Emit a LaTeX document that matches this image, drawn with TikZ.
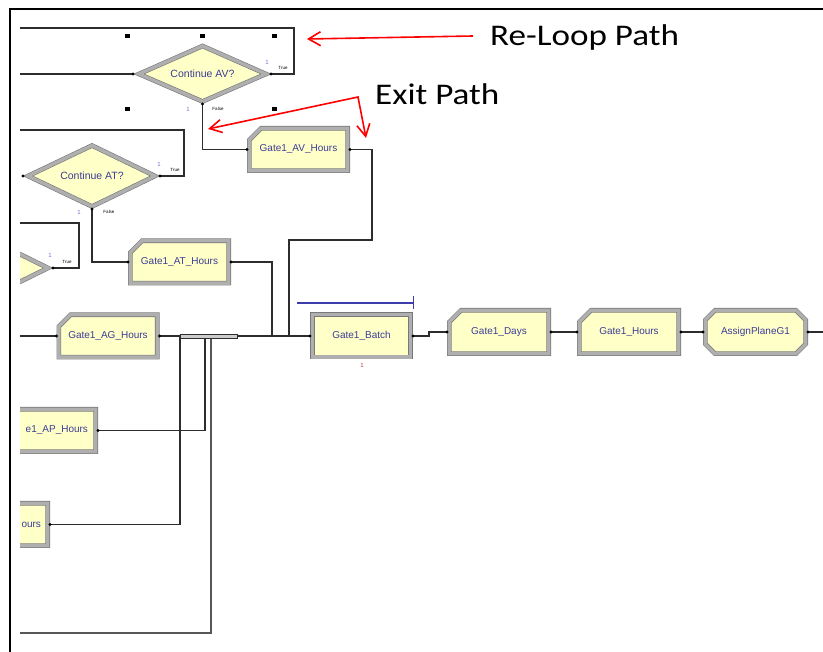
\documentclass[tikz,border=0pt]{standalone}
\usepackage{fontspec}
\setmainfont{Liberation Sans}
\newfontfamily\annfont{Carlito}
\usetikzlibrary{arrows.meta,calc}
\definecolor{modfill}{RGB}{255,255,200}
\definecolor{modgray}{RGB}{175,175,175}
\definecolor{modedge}{RGB}{120,120,120}
\definecolor{modtext}{RGB}{60,60,150}
\definecolor{conncol}{RGB}{45,45,45}
\definecolor{onecol}{RGB}{120,110,210}
\definecolor{batchone}{RGB}{190,60,60}
\definecolor{batchblue}{RGB}{60,60,170}
\pgfdeclarelayer{bg}
\pgfsetlayers{bg,main}
\tikzset{
  mod/.style={rectangle, inner sep=0pt, outer sep=0pt, minimum width=103pt, minimum height=47pt,
    font=\fontsize{10}{12}\selectfont, text=modtext},
  dtext/.style={inner sep=0pt, font=\fontsize{10.5}{12}\selectfont, text=modtext},
  modborder/.style={draw=modedge, line width=0.6pt, double=modgray, double distance=3.4pt, fill=modfill, line join=miter},
  conn/.style={draw=conncol, line width=1.1pt},
  tinylab/.style={inner sep=0pt, font=\fontsize{4.5}{5}\selectfont, text=black},
  onelab/.style={inner sep=0pt, font=\fontsize{6}{7}\selectfont, text=onecol},
  ann/.style={inner sep=0pt, font=\annfont\fontsize{30}{36}\selectfont, text=black},
  redarr/.style={draw=red, line width=1.6pt, line join=miter, -{Straight Barb[length=12pt,width=14pt]}},
  redarrtwo/.style={draw=red, line width=1.6pt, line join=miter, {Straight Barb[length=12pt,width=13pt]}-{Straight Barb[length=12pt,width=13pt]}},
  handle/.style={fill=black},
}
\newcommand\procshape[1]{\draw[modborder] ([shift={(14pt,-2.3pt)}]#1.north west) -- ([shift={(-2.3pt,-2.3pt)}]#1.north east) -- ([shift={(-2.3pt,2.3pt)}]#1.south east) -- ([shift={(2.3pt,2.3pt)}]#1.south west) -- ([shift={(2.3pt,-14pt)}]#1.north west) -- cycle;}
\newcommand\octshape[1]{\draw[modborder] ([shift={(12pt,-2.3pt)}]#1.north west) -- ([shift={(-12pt,-2.3pt)}]#1.north east) -- ([shift={(-2.3pt,-12pt)}]#1.north east) -- ([shift={(-2.3pt,12pt)}]#1.south east) -- ([shift={(-12pt,2.3pt)}]#1.south east) -- ([shift={(12pt,2.3pt)}]#1.south west) -- ([shift={(2.3pt,12pt)}]#1.south west) -- ([shift={(2.3pt,-12pt)}]#1.north west) -- cycle;}
\newcommand\rectshape[1]{\draw[modborder] ([shift={(2.3pt,-2.3pt)}]#1.north west) rectangle ([shift={(-2.3pt,2.3pt)}]#1.south east);}
\begin{document}
\begin{tikzpicture}[x=1pt,y=-1pt]
\useasboundingbox (0,0) rectangle (823,652);
\begin{scope}
\clip (20,10) rectangle (823,652);
% decision shapes
\draw[modborder] (139,74) -- (202.5,46) -- (266,74) -- (202.5,101.5) -- cycle;
\draw[modborder] (28,176) -- (92,145.5) -- (155,176) -- (92,206.5) -- cycle;
\draw[modborder] (-78,268) -- (-15,237) -- (48,268) -- (-15,299) -- cycle;
\node[dtext] (avD) at (202.5,74) {Continue AV?};
\node[dtext] (atD) at (92,176) {Continue AT?};
\coordinate (avW) at (133,74);
\coordinate (avE) at (271,74);
\coordinate (avS) at (202.5,104);
\coordinate (atW) at (23,176);
\coordinate (atE) at (160,176);
\coordinate (atS) at (92,209);
\coordinate (d3E) at (53,268);
% modules
\node[mod] (avh) at (298.5,149.5) {Gate1\_AV\_Hours};
\node[mod] (ath) at (179.5,262) {Gate1\_AT\_Hours};
\node[mod] (agh) at (108,336) {Gate1\_AG\_Hours};
\node[mod, text width=83pt, align=right] (aph) at (46.5,430.5) {e1\_AP\_Hours};
\node[mod, text width=85pt, align=right] (ours) at (-1.5,524.5) {ours};
\node[mod] (bat) at (361.5,336) {Gate1\_Batch};
\node[mod, minimum width=104pt, minimum height=48pt] (days) at (499,332) {Gate1\_Days};
\node[mod, minimum width=104pt, minimum height=48pt] (hrs) at (629,332) {Gate1\_Hours};
\node[mod, minimum width=105pt, minimum height=48pt] (asg) at (755.5,332) {AssignPlaneG1};
% free ends
\coordinate (lAV) at (20,74);
\coordinate (tAV) at (20,28);
\coordinate (tAT) at (20,130);
\coordinate (t3) at (20,223);
\coordinate (lAG) at (20,336);
\coordinate (bB) at (20,633);
\coordinate (jAV) at (289,336);
\coordinate (jAT) at (272,336);
\coordinate (jAP) at (205,336);
\coordinate (jOU) at (180,336);
\coordinate (jB) at (211,336);
\coordinate (rEnd) at (823,332);
% connectors
\draw[conn] (lAV) -- (avW);
\draw[conn] (avE) -| (294,28) -- (tAV);
\draw[conn] (avS) |- (avh.west);
\draw[conn] (avh.east) -| (372,240) -| (jAV);
\draw[conn] (atE) -| (184,130) -- (tAT);
\draw[conn] (atS) |- (ath.west);
\draw[conn] (ath.east) -| (jAT);
\draw[conn] (d3E) -| (79,223) -- (t3);
\draw[conn] (lAG) -- (agh.west);
\draw[conn] (agh.east) -- (bat.west);
\draw[conn] (aph.east) -| (jAP);
\draw[conn] (ours.east) -| (jOU);
\draw[conn, draw=conncol!80] (bB) -| (jB);
\draw[conn, line width=0.8pt, fill=gray!40] (180,334) rectangle (237,338);
\draw[conn] (bat.east) -- ++(16,0) |- (days.west);
\draw[conn] (days.east) -- (hrs.west);
\draw[conn] (hrs.east) -- (asg.west);
\draw[conn] (asg.east) -- (rEnd);
% connection points
\foreach \p in {avW,avE,avS,atW,atE,atS,d3E,avh.west,avh.east,ath.west,ath.east,agh.west,agh.east,aph.east,ours.east,bat.west,bat.east,days.west,days.east,hrs.west,hrs.east,asg.west,asg.east}
  \fill[black] (\p) circle (1.6pt);
% selection handles
\foreach \hx/\hy in {127/36,202.5/36,274/36,127/109,274/109}
  \fill[handle] (\hx-2.5,\hy-2) rectangle (\hx+2.5,\hy+2);
% small labels
\node[tinylab] (avT) at (283,68) {True};
\node[tinylab] (avF) at (218,109) {False};
\node[onelab] (av1) at (267,62) {1};
\node[onelab] (av1b) at (188,109) {1};
\node[tinylab] (atT) at (175,170) {True};
\node[tinylab] (atF) at (109,212) {False};
\node[onelab] (at1) at (159,164) {1};
\node[onelab] (at1b) at (79,212) {1};
\node[tinylab] (d3T) at (67,262) {True};
\node[onelab] (d31) at (50,255) {1};
\node[onelab, text=batchone] (bat1) at (362,365) {1};
% batch queue line
\coordinate (bq1) at (297,303);
\coordinate (bq2) at (414,303);
\draw[draw=batchblue, line width=1.2pt, -{Bar[width=13pt]}] (bq1) -- (bq2);
\end{scope}
\begin{pgfonlayer}{bg}
\begin{scope}
\clip (20,10) rectangle (823,652);
\procshape{avh}
\procshape{ath}
\procshape{agh}
\procshape{aph}
\procshape{ours}
\rectshape{bat}
\procshape{days}
\procshape{hrs}
\octshape{asg}
\end{scope}
\end{pgfonlayer}
% frame
\draw[black, line width=2.4pt] (823,9) -- (10,9) -- (10,652);
% annotations
\node[ann, anchor=base west] (reloop) at (490,46) {\scalebox{1.17}[1]{Re-Loop Path}};
\node[ann, anchor=base west] (exitp) at (375,105) {\scalebox{1.17}[1]{Exit Path}};
\coordinate (reS) at (473,36);
\coordinate (reT) at (307,39);
\coordinate (exA) at (358,97);
\coordinate (exL) at (208,129);
\coordinate (exR) at (366,138);
\draw[redarr] (reS) -- (reT);
\draw[redarrtwo] (exL) -- (exA) -- (exR);
\end{tikzpicture}
\end{document}
